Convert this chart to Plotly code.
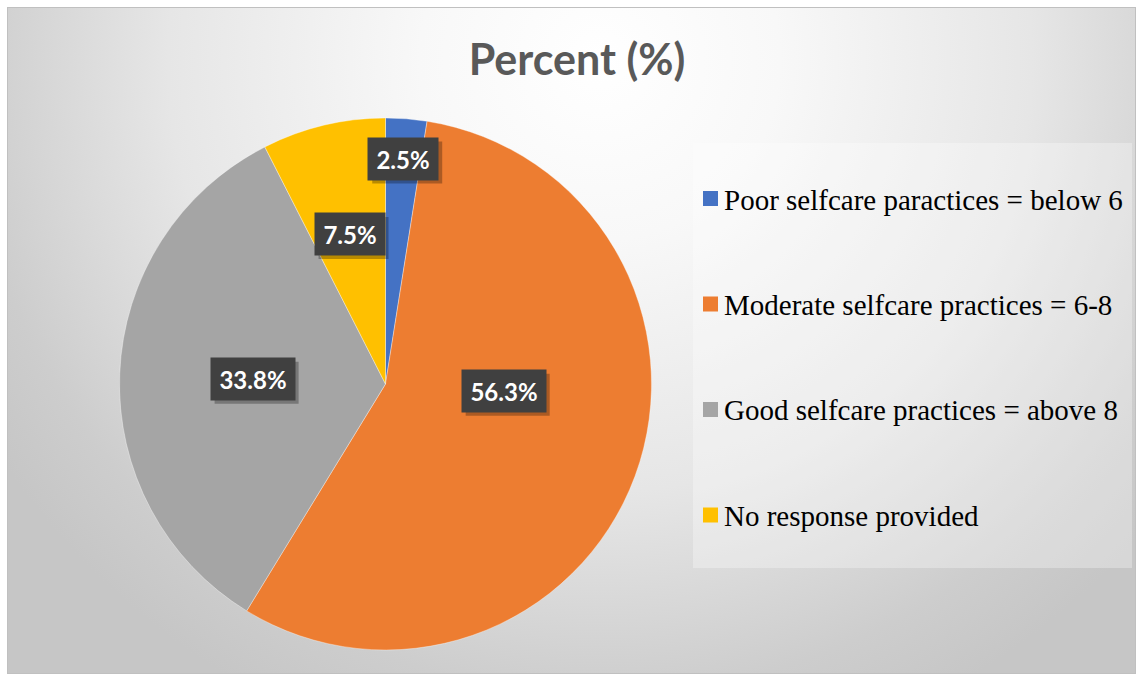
import base64
import math
import plotly.graph_objects as go

# ---------------- data ----------------
categories = [
    "Poor selfcare paractices = below 6",
    "Moderate selfcare practices = 6-8",
    "Good selfcare practices = above 8",
    "No response provided",
]
percent = [2.5, 56.3, 33.8, 7.5]
label_text = ["2.5%", "56.3%", "33.8%", "7.5%"]
title_text = "Percent (%)"

# ---------------- style ----------------
colors = ["#4472C4", "#ED7D31", "#A5A5A5", "#FFC000"]
W, H = 1137, 675
CX, CY, R = 385.5, 384.0, 266.0           # pie centre / radius in px
label_radius = [0.85, 0.445, 0.50, 0.58]  # fraction of radius for data-label boxes
label_angle_shift = [0, -17, 0, 0]        # degrees, best-fit nudge like Excel
SERIF = "'Liberation Serif', 'DejaVu Serif', serif"

def px_x(x):
    return x / W

def px_y(y):
    return 1 - y / H

# background (radial gradient + legend panel) as SVG image
svg = f"""<svg xmlns='http://www.w3.org/2000/svg' width='{W}' height='{H}' viewBox='0 0 {W} {H}'>
<defs><radialGradient id='g' gradientUnits='userSpaceOnUse' cx='600' cy='60' r='720'>
<stop offset='0' stop-color='#ffffff'/><stop offset='0.25' stop-color='#f8f8f8'/>
<stop offset='0.6' stop-color='#e6e6e6'/><stop offset='0.88' stop-color='#cdcdcd'/>
<stop offset='1' stop-color='#c6c6c6'/></radialGradient></defs>
<rect width='{W}' height='{H}' fill='#ffffff'/>
<rect x='7.5' y='7.5' width='1128' height='666' fill='url(#g)' stroke='#c0c0c0'/>
<rect x='693' y='143' width='439' height='425' fill='#ffffff' fill-opacity='0.3'/>
</svg>"""
svg_uri = "data:image/svg+xml;base64," + base64.b64encode(svg.encode()).decode()

fig = go.Figure()
fig.add_trace(go.Pie(
    labels=categories,
    values=percent,
    sort=False,
    direction="clockwise",
    rotation=0,
    marker=dict(colors=colors, line=dict(color="rgba(255,255,255,0.6)", width=0.6)),
    textinfo="none",
    hoverinfo="label+percent",
    showlegend=False,
    domain=dict(x=[px_x(CX - R), px_x(CX + R)], y=[px_y(CY + R), px_y(CY - R)]),
))

annotations = []
shapes = []
total = sum(percent)
cum = 0.0
BOX_H, PAD = 30, 6
for i, v in enumerate(percent):
    mid = (cum + v / 2) / total * 360 + label_angle_shift[i]
    cum += v
    rr = label_radius[i] * R
    x = CX + rr * math.sin(math.radians(mid))
    y = CY - rr * math.cos(math.radians(mid))
    w = 14 * len(label_text[i]) + 2
    bw, bh = w + 2 * PAD, BOX_H + 2 * PAD
    # soft drop shadow (shape, behind the label box)
    shapes.append(dict(type="rect", xref="paper", yref="paper", layer="above",
                       x0=px_x(x - bw / 2 + 4), x1=px_x(x + bw / 2 + 4),
                       y0=px_y(y + bh / 2 + 4), y1=px_y(y - bh / 2 + 4),
                       fillcolor="rgba(0,0,0,0.28)", line=dict(width=0)))
    annotations.append(dict(x=px_x(x), y=px_y(y), xref="paper", yref="paper",
                            xanchor="center", yanchor="middle", showarrow=False,
                            width=w, height=BOX_H, borderpad=PAD,
                            text="<b>" + label_text[i] + "</b>", bgcolor="#404040",
                            font=dict(family="Lato", size=24, color="#ffffff")))

# legend (drawn from categories / colors)
leg_y0, leg_step = 198.5, 105.5
for i, name in enumerate(categories):
    yc = leg_y0 + i * leg_step
    shapes.append(dict(type="rect", xref="paper", yref="paper",
                       x0=px_x(703), x1=px_x(718), y0=px_y(yc + 7.5), y1=px_y(yc - 7.5),
                       fillcolor=colors[i], line=dict(width=0)))
    annotations.append(dict(x=px_x(722), y=px_y(yc + 1), xref="paper", yref="paper",
                            xanchor="left", yanchor="middle", showarrow=False,
                            text=name, font=dict(family=SERIF, size=29, color="#000000")))

fig.update_layout(
    width=W, height=H,
    margin=dict(l=0, r=0, t=0, b=0),
    paper_bgcolor="#ffffff",
    title=dict(text="<b>" + title_text + "</b>", x=px_x(577), y=px_y(60),
               xanchor="center", yanchor="middle",
               font=dict(family="Lato", size=43, color="#595959")),
    images=[dict(source=svg_uri, xref="paper", yref="paper", x=0, y=1, sizex=1, sizey=1,
                 sizing="stretch", xanchor="left", yanchor="top", layer="below")],
    shapes=shapes,
    annotations=annotations,
)

fig.write_html("out.html")
